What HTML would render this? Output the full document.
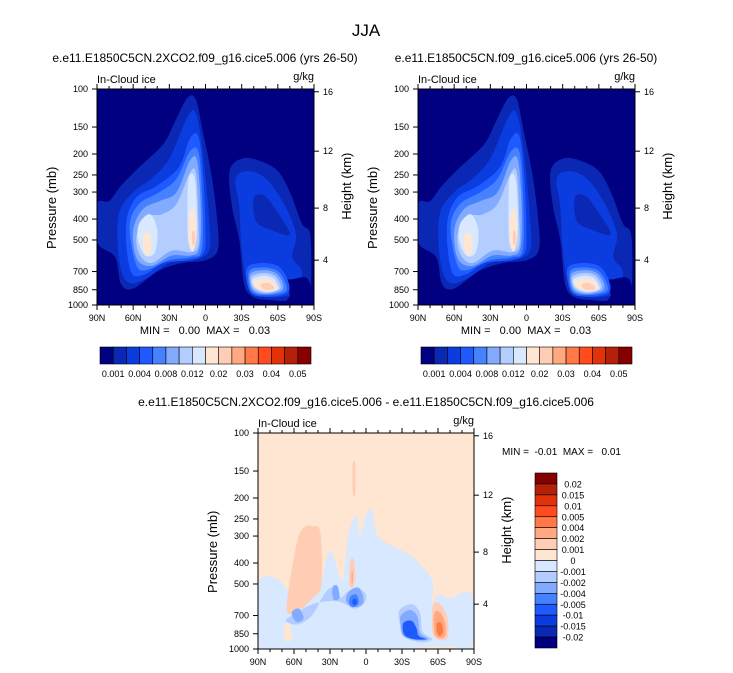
<!DOCTYPE html>
<html><head><meta charset="utf-8">
<style>
html,body{margin:0;padding:0;background:#fff;}
svg{display:block;font-family:"Liberation Sans",Arial,sans-serif;}
text{white-space:pre;}
</style></head>
<body>
<svg id="fig" width="733" height="673" viewBox="0 0 733 673" xmlns="http://www.w3.org/2000/svg">
<text x="366" y="36" font-size="17" text-anchor="middle">JJA</text>
<g id="root"></g>
</svg>
<script>
// ---- data ----
const topColors = ["#000080","#0a28b4","#0a3ce0","#1e5aff","#4682ff","#82aaff","#b4cdff","#d7e8ff","#ffe6d2","#ffcdb4","#ffa882","#ff7846","#ff4b1e","#e1320a","#b4200a","#870000"];
const topLevelLabels = ["0.001","0.004","0.008","0.012","0.02","0.03","0.04","0.05"];
const diffLevelLabels = ["0.02","0.015","0.01","0.005","0.004","0.002","0.001","0","-0.001","-0.002","-0.004","-0.005","-0.01","-0.015","-0.02"];
const pressureTicks = [100,150,200,250,300,400,500,700,850,1000];
const heightTicks = [16,12,8,4];
const heightTickPressures = [103,194,356,620];
const latTicks = [90,60,30,0,-30,-60,-90];
const latLabels = ["90N","60N","30N","0","30S","60S","90S"];
// contour regions: [level index, [[lat, pressure], ...]]
const fieldShapes = [
 [1,[[90,340],[80,330],[70,280],[55,230],[35,180],[25,140],[15,110],[8,112],[2,160],[-5,250],[-10,420],[-10,560],[0,620],[20,640],[40,700],[60,840],[70,800],[75,600],[90,510]]],
 [2,[[72,380],[60,300],[45,260],[30,210],[15,135],[8,130],[2,200],[-3,400],[-3,560],[10,620],[30,640],[50,760],[65,780],[72,600]]],
 [3,[[66,430],[58,320],[40,280],[22,230],[13,170],[6,165],[2,250],[0,450],[2,580],[15,620],[35,640],[50,720],[62,700]]],
 [4,[[63,430],[55,340],[38,300],[24,260],[13,195],[6,195],[3,300],[3,550],[12,600],[30,620],[50,690],[58,640]]],
 [5,[[60,450],[52,360],[38,330],[24,300],[13,215],[7,215],[4,350],[5,540],[12,590],[28,590],[45,660],[57,610]]],
 [6,[[57,470],[48,390],[36,380],[24,340],[13,245],[8,245],[6,400],[6,530],[12,570],[28,560],[45,640],[55,580]]],
 [7,[[55,420],[46,380],[40,450],[42,570],[50,590],[56,500]]],
 [7,[[14,260],[9,260],[7,420],[9,540],[14,520],[15,380]]],
 [8,[[51,470],[46,470],[45,560],[49,590],[52,530]]],
 [8,[[13,370],[9,370],[8,480],[10,560],[13,540],[14,450]]],
 [9,[[11,460],[9,460],[9,520],[11,520]]],
 [1,[[-20,240],[-30,210],[-45,215],[-60,240],[-70,300],[-80,420],[-87,480],[-87,900],[-80,950],[-70,960],[-55,950],[-40,920],[-32,800],[-28,500],[-22,350]]],
 [2,[[-25,260],[-35,240],[-50,260],[-65,340],[-75,470],[-72,600],[-80,700],[-75,870],[-60,920],[-45,900],[-35,800],[-30,550],[-28,350]]],
 [1,[[-40,320],[-48,310],[-58,360],[-70,470],[-55,450],[-42,410]]],
 [0,[[-66,780],[-72,760],[-85,760],[-88,1000],[-66,1000],[-70,900]]],
 [3,[[-34,680],[-45,640],[-60,660],[-68,760],[-68,880],[-50,915],[-37,870]]],
 [4,[[-36,700],[-46,670],[-59,690],[-66,780],[-66,870],[-50,900],[-38,860]]],
 [5,[[-37,720],[-47,690],[-58,710],[-64,790],[-63,860],[-50,890],[-39,850]]],
 [6,[[-38,740],[-48,710],[-57,730],[-62,800],[-61,850],[-50,880],[-40,840]]],
 [7,[[-39,760],[-48,730],[-56,750],[-60,810],[-60,850],[-50,870],[-41,830]]],
 [8,[[-40,780],[-48,755],[-55,770],[-59,820],[-58,850],[-50,860],[-42,830]]],
 [9,[[-46,800],[-52,790],[-57,830],[-55,850],[-48,845]]]
];
const diffShapes = [
 [7,[[90,500],[75,470],[60,560],[40,520],[30,350],[20,480],[15,300],[8,240],[5,300],[0,240],[-5,230],[-10,300],[-25,340],[-40,380],[-55,480],[-55,620],[-60,560],[-70,580],[-88,560],[-88,970],[-60,975],[90,1000]]],
 [8,[[68,780],[64,760],[62,900],[67,920],[69,850]]],
 [9,[[66,650],[58,330],[52,275],[44,270],[38,290],[37,500],[44,580],[56,660]]],
 [9,[[11,140],[9,140],[9,190],[11,190]]],
 [9,[[13,390],[10,390],[9,470],[11,520],[14,500]]],
 [10,[[12,440],[11,440],[11,490],[12,490]]],
 [6,[[35,560],[28,520],[22,580],[15,540],[8,520],[0,560],[2,620],[10,650],[20,610],[30,600],[45,620],[60,690],[67,740],[57,770],[45,700]]],
 [5,[[28,520],[24,510],[22,580],[27,590]]],
 [5,[[15,550],[6,520],[2,600],[8,640],[16,610]]],
 [4,[[13,570],[8,560],[6,610],[10,640],[14,620]]],
 [3,[[11,590],[8,590],[8,620],[11,620]]],
 [5,[[62,680],[56,650],[52,720],[58,750]]],
 [6,[[-28,660],[-38,620],[-45,680],[-47,830],[-55,900],[-46,930],[-32,880],[-28,760]]],
 [5,[[-29,700],[-37,660],[-43,710],[-45,840],[-52,900],[-42,910],[-31,870],[-29,780]]],
 [3,[[-31,760],[-38,740],[-42,800],[-44,870],[-50,900],[-40,900],[-32,860]]],
 [9,[[-56,620],[-62,620],[-68,720],[-68,880],[-62,910],[-56,860],[-55,740]]],
 [10,[[-57,680],[-62,680],[-66,760],[-66,870],[-61,890],[-57,840]]],
 [11,[[-59,760],[-63,760],[-64,840],[-61,870],[-59,830]]]
];
// ---- drawing ----
const NS="http://www.w3.org/2000/svg";
const root=document.getElementById('root');
function mk(tag,attrs,parent,txt){const e=document.createElementNS(NS,tag);for(const k in attrs)e.setAttribute(k,attrs[k]);if(txt!==undefined)e.textContent=txt;(parent||root).appendChild(e);return e;}
function smooth(pts){let d="";const n=pts.length;for(let i=0;i<n;i++){const p0=pts[(i-1+n)%n],p1=pts[i],p2=pts[(i+1)%n],p3=pts[(i+2)%n];if(i===0)d+="M"+p1[0]+","+p1[1];const c1=[p1[0]+(p2[0]-p0[0])/6,p1[1]+(p2[1]-p0[1])/6],c2=[p2[0]-(p3[0]-p1[0])/6,p2[1]-(p3[1]-p1[1])/6];d+="C"+c1+" "+c2+" "+p2;}return d+"Z";}
function panel(x0,y0,w,h,bg,shapes,name){
 const g=mk('g',{});
 
 
 const xs=lat=>x0+(90-lat)/180*w;
 const ys=p=>y0+(Math.log10(p)-2)*h;
 const cid=name+'-clip';
 const cp=mk('clipPath',{id:cid},g);mk('rect',{x:x0,y:y0,width:w,height:h},cp);
 const bgr=mk('rect',{x:x0,y:y0,width:w,height:h,fill:bg},g);
 
 
 const cg=mk('g',{'clip-path':'url(#'+cid+')'},g);
 shapes.forEach((s,i)=>{const pts=s[1].map(q=>[xs(q[0]).toFixed(1),ys(q[1]).toFixed(1)].map(Number));
  const el=mk('path',{d:smooth(pts),fill:topColors[s[0]]},cg);
  
  });
 mk('rect',{x:x0,y:y0,width:w,height:h,fill:'none',stroke:'#000','stroke-width':1},g);
 pressureTicks.forEach(p=>{const y=ys(p);mk('line',{x1:x0-5,x2:x0,y1:y,y2:y,stroke:'#000'},g);
  const t=mk('text',{x:x0-9,y:y+3,'font-size':9,'text-anchor':'end'},g,p);
  
  });
 heightTicks.forEach((hk,i)=>{const y=ys(heightTickPressures[i]);mk('line',{x1:x0+w,x2:x0+w+5,y1:y,y2:y,stroke:'#000'},g);
  const t=mk('text',{x:x0+w+9,y:y+3,'font-size':9},g,hk);
  
  });
 for(let l=-90;l<=90;l+=10){const x=xs(l);const L=(l%30===0)?5:3;
  mk('line',{x1:x,x2:x,y1:y0+h,y2:y0+h+L,stroke:'#000'},g);mk('line',{x1:x,x2:x,y1:y0,y2:y0-L,stroke:'#000'},g);}
 latTicks.forEach((l,i)=>{const t=mk('text',{x:xs(l),y:y0+h+16,'font-size':9,'text-anchor':'middle'},g,latLabels[i]);
  
  });
 let t=mk('text',{x:x0,y:y0-6,'font-size':11},g,'In-Cloud ice');
 
 
 t=mk('text',{x:x0+w,y:y0-9,'font-size':11,'text-anchor':'end'},g,'g/kg');
 
 
 t=mk('text',{x:0,y:0,'font-size':13,'text-anchor':'middle',transform:'translate('+(x0-41)+','+(y0+h*0.55)+') rotate(-90)'},g,'Pressure (mb)');
 
 
 t=mk('text',{x:0,y:0,'font-size':13,'text-anchor':'middle',transform:'translate('+(x0+w+37)+','+(y0+h*0.45)+') rotate(-90)'},g,'Height (km)');
 
 
}
function hbar(x0,y0,w,h,name){
 const g=mk('g',{});
 
 
 const bw=w/16;
 topColors.forEach((c,i)=>{const r=mk('rect',{x:x0+i*bw,y:y0,width:bw,height:h,fill:c,stroke:'#000','stroke-width':0.6},g);
  
  });
 topLevelLabels.forEach((s,i)=>{const t=mk('text',{x:x0+(2*i+1)*bw,y:y0+h+13,'font-size':9,'text-anchor':'middle'},g,s);
  
  });
}
function title(x,y,s,name){const t=mk('text',{x:x,y:y,'font-size':12,'text-anchor':'middle'},root,s);
 
 }

title(205,62,'e.e11.E1850C5CN.2XCO2.f09_g16.cice5.006 (yrs 26-50)','left-panel-title');
title(526,62,'e.e11.E1850C5CN.f09_g16.cice5.006 (yrs 26-50)','right-panel-title');
panel(97,89,217,216,topColors[0],fieldShapes,'left-panel');
panel(418,89,217,216,topColors[0],fieldShapes,'right-panel');
[[205,'left'],[526,'right']].forEach(a=>{const t=mk('text',{x:a[0],y:334,'font-size':11,'text-anchor':'middle'},root,'MIN =   0.00  MAX =   0.03');
 
 });
hbar(100,347,211,17,'left-colorbar');
hbar(421,347,211,17,'right-colorbar');
title(366,406,'e.e11.E1850C5CN.2XCO2.f09_g16.cice5.006 - e.e11.E1850C5CN.f09_g16.cice5.006','difference-panel-title');
panel(258,433,216,216,topColors[8],diffShapes,'difference-panel');
{const t=mk('text',{x:502,y:455,'font-size':10},root,'MIN =  -0.01  MAX =   0.01');
 
 }
{const g=mk('g',{});
 
 
 const x0=535,y0=473,w=22,h=175,bh=h/16;
 topColors.slice().reverse().forEach((c,i)=>{const r=mk('rect',{x:x0,y:y0+i*bh,width:w,height:bh,fill:c,stroke:'#000','stroke-width':0.6},g);
  
  });
 diffLevelLabels.forEach((s,i)=>{const t=mk('text',{x:573,y:y0+(i+1)*bh+3.5,'font-size':9,'text-anchor':'middle'},g,s);
  
  });
}
</script>
</body></html>
